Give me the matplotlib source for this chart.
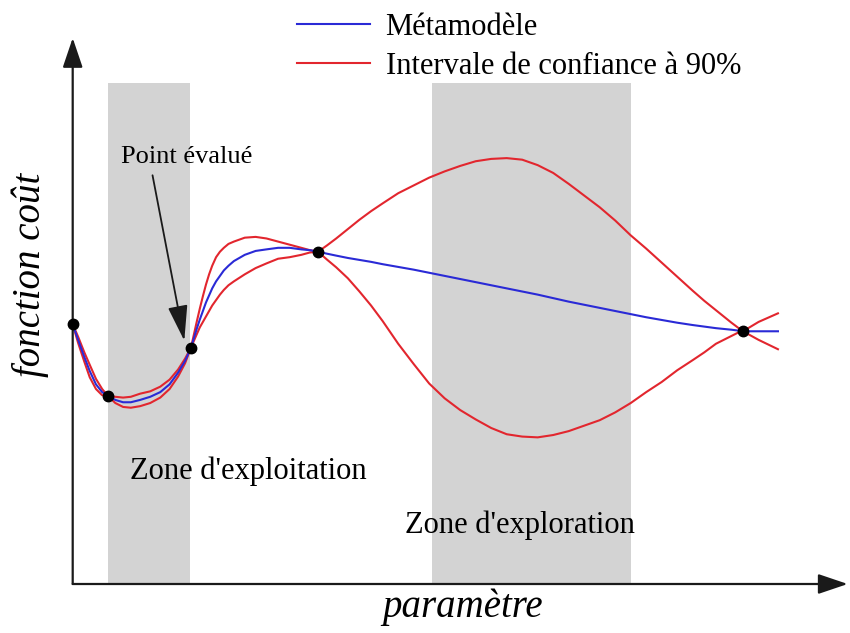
import matplotlib
matplotlib.use("Agg")
import matplotlib.pyplot as plt

plt.rcParams['font.family'] = ['Liberation Serif', 'DejaVu Serif']

# ---------------------------------------------------------------------------
# Data (arbitrary units: parameter on x, cost on y)
# ---------------------------------------------------------------------------

# evaluated points
pts_x = [0.00, 0.455, 1.526, 3.165, 8.649]
pts_y = [3.33, 2.41, 3.03, 4.26, 3.24]

# metamodel and 90% confidence bounds, sampled along the parameter
x = [0.00, 0.07, 0.15, 0.22, 0.30, 0.38,
     0.455, 0.55, 0.65, 0.75, 0.87, 1.00, 1.13, 1.25, 1.36, 1.45,
     1.526, 1.60, 1.64, 1.68, 1.72, 1.76, 1.80, 1.85, 1.90, 1.95, 2.01, 2.08,
     2.22, 2.36, 2.50, 2.65, 2.80, 2.95, 3.06,
     3.165, 3.28, 3.40, 3.55, 3.70, 3.85, 4.00, 4.20, 4.40, 4.60, 4.80, 5.00,
     5.20, 5.40, 5.60, 5.80, 6.00, 6.20, 6.40, 6.60, 6.80, 7.00, 7.20, 7.40,
     7.60, 7.80, 8.00, 8.15, 8.30, 8.40, 8.50, 8.58,
     8.649, 8.85, 9.10]

meta = [3.33, 3.13, 2.91, 2.73, 2.56, 2.46,
        2.41, 2.36, 2.33, 2.33, 2.36, 2.40, 2.46, 2.56, 2.71, 2.86,
        3.03, 3.27, 3.39, 3.50, 3.61, 3.70, 3.79, 3.88, 3.95, 4.02, 4.08, 4.14,
        4.22, 4.27, 4.29, 4.31, 4.31, 4.29, 4.28,
        4.26, 4.235, 4.21, 4.18, 4.155, 4.13, 4.10, 4.065, 4.03, 3.99, 3.95, 3.91,
        3.87, 3.83, 3.79, 3.75, 3.71, 3.665, 3.62, 3.58, 3.54, 3.50, 3.46, 3.42,
        3.385, 3.35, 3.32, 3.30, 3.28, 3.27, 3.26, 3.25,
        3.24, 3.24, 3.24]

ci_hi = [3.33, 3.17, 2.97, 2.81, 2.63, 2.50,
         2.41, 2.40, 2.39, 2.40, 2.44, 2.47, 2.53, 2.62, 2.75, 2.89,
         3.03, 3.36, 3.53, 3.69, 3.84, 3.97, 4.08, 4.19, 4.26, 4.31, 4.36, 4.39,
         4.44, 4.45, 4.43, 4.39, 4.35, 4.31, 4.28,
         4.26, 4.34, 4.43, 4.55, 4.67, 4.78, 4.88, 5.01, 5.11, 5.21, 5.29, 5.36,
         5.42, 5.45, 5.46, 5.44, 5.37, 5.27, 5.13, 4.98, 4.83, 4.66, 4.47, 4.30,
         4.12, 3.94, 3.76, 3.63, 3.51, 3.43, 3.35, 3.29,
         3.24, 3.13, 3.01]

ci_lo = [3.33, 3.09, 2.85, 2.65, 2.50, 2.42,
         2.41, 2.32, 2.27, 2.26, 2.28, 2.32, 2.39, 2.50, 2.66, 2.83,
         3.03, 3.20, 3.29, 3.36, 3.43, 3.50, 3.57, 3.64, 3.71, 3.77, 3.83, 3.88,
         3.97, 4.05, 4.11, 4.17, 4.19, 4.22, 4.25,
         4.26, 4.16, 4.06, 3.92, 3.75, 3.57, 3.37, 3.08, 2.82, 2.57, 2.38, 2.23,
         2.11, 2.00, 1.92, 1.89, 1.88, 1.91, 1.96, 2.03, 2.10, 2.20, 2.32, 2.46,
         2.59, 2.74, 2.87, 2.97, 3.08, 3.13, 3.18, 3.22,
         3.24, 3.36, 3.47]

# shaded zones (exploitation, exploration)
zone_start = [0.45, 4.64]
zone_end = [1.51, 7.20]
zone_top = 6.42

BLUE = "#2a2ad6"
RED = "#e2262e"
GREY = "#d3d3d3"
INK = "#1a1a1a"

# ---------------------------------------------------------------------------
# Plot
# ---------------------------------------------------------------------------

fig = plt.figure(figsize=(8.5, 6.33), dpi=100)
ax = fig.add_axes([72.7 / 850, 49 / 633, 775 / 850, 546 / 633])
ax.set_xlim(0, 10)
ax.set_ylim(0, 7)
ax.axis('off')

for x0, x1 in zip(zone_start, zone_end):
    ax.bar(x0, zone_top, width=x1 - x0, align='edge', color=GREY, zorder=0)

ax.plot(x, ci_hi, color=RED, lw=1.5, zorder=2, label="Intervale de confiance à 90%")
ax.plot(x, ci_lo, color=RED, lw=1.5, zorder=2)
ax.plot(x, meta, color=BLUE, lw=1.5, zorder=3, label="Métamodèle")
ax.plot(pts_x, pts_y, 'o', color='black', ms=7.5, zorder=4, clip_on=False)

# axes drawn as arrows
arrow_kw = dict(arrowstyle='-|>,head_length=0.65,head_width=0.22',
                color=INK, lw=1.6, mutation_scale=28, shrinkA=0, shrinkB=0)
ax.annotate('', xy=(10, 0), xytext=(0, 0), arrowprops=arrow_kw, annotation_clip=False)
ax.annotate('', xy=(0, 7), xytext=(0, 0), arrowprops=arrow_kw, annotation_clip=False)

# annotations
ax.text(1.475, 5.47, "Point évalué", ha='center', va='center', fontsize=19)
ax.annotate('', xy=(1.44, 3.12), xytext=(1.03, 5.24),
            arrowprops=dict(arrowstyle='-|>,head_length=1.0,head_width=0.28',
                            color=INK, lw=1.3, mutation_scale=22,
                            shrinkA=0, shrinkB=0))
ax.text(2.26, 1.44, "Zone d'exploitation", ha='center', va='center', fontsize=22)
ax.text(5.77, 0.75, "Zone d'exploration", ha='center', va='center', fontsize=22)

handles, labels = ax.get_legend_handles_labels()
leg = ax.legend(handles[::-1], labels[::-1], loc='upper left',
                bbox_to_anchor=(297 / 850, 1 - 13 / 633), bbox_transform=fig.transFigure,
                frameon=False, fontsize=22, handlelength=2.4, handletextpad=0.5,
                labelspacing=0.33, borderpad=0, borderaxespad=0)

fig.text(30 / 850, 1 - 275 / 633, "fonction coût", rotation=90, style='italic',
         ha='center', va='center', fontsize=28)
fig.text(463 / 850, 1 - 607 / 633, "paramètre", style='italic',
         ha='center', va='center', fontsize=28)

fig.savefig("out.png", dpi=100)
